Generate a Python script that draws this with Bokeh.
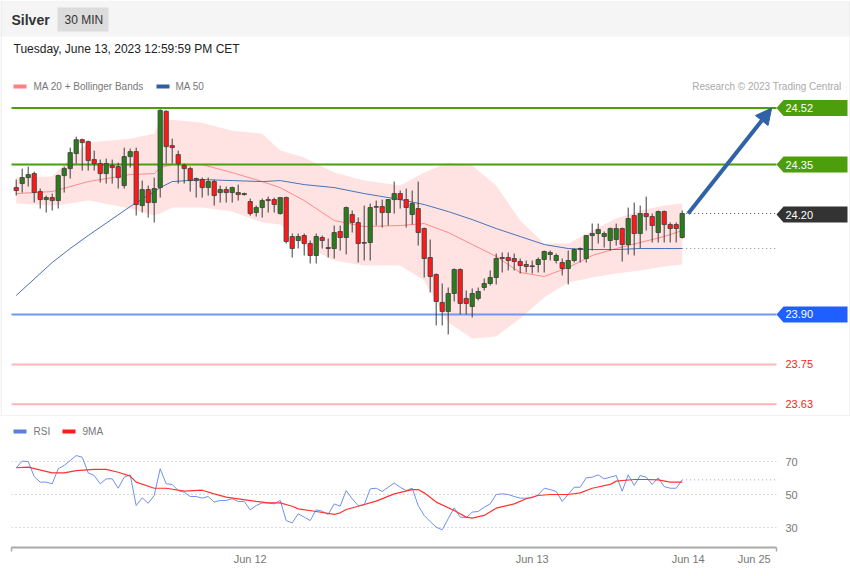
import numpy as np
from bokeh.plotting import figure
from bokeh.layouts import column
from bokeh.models import (ColumnDataSource, Range1d, Label, BoxAnnotation,
                          Arrow, NormalHead, FixedTicker)
from bokeh.core.properties import value
from bokeh.embed import file_html
from bokeh.resources import INLINE

# ------------------------------------------------------------------ data
OPEN = [24.281, 24.293, 24.311, 24.323, 24.269, 24.245, 24.251, 24.242, 24.317, 24.338,
        24.383, 24.425, 24.419, 24.365, 24.353, 24.323, 24.347, 24.344, 24.287, 24.374,
        24.389, 24.227, 24.275, 24.236, 24.281, 24.510, 24.407, 24.380, 24.347, 24.338,
        24.302, 24.305, 24.281, 24.299, 24.266, 24.275, 24.266, 24.266, 24.260, 24.239,
        24.206, 24.221, 24.245, 24.245, 24.203, 24.251, 24.134, 24.122, 24.137, 24.113,
        24.077, 24.131, 24.101, 24.098, 24.149, 24.131, 24.200, 24.176, 24.116, 24.116,
        24.224, 24.224, 24.206, 24.245, 24.263, 24.245, 24.200, 24.218, 24.158, 24.071,
        24.020, 23.936, 23.909, 23.963, 24.035, 23.948, 23.924, 23.948, 23.981, 23.993,
        24.011, 24.068, 24.071, 24.068, 24.059, 24.050, 24.046, 24.050, 24.065, 24.080,
        24.062, 24.056, 24.038, 24.062, 24.095, 24.068, 24.137, 24.143, 24.134, 24.122,
        24.125, 24.158, 24.110, 24.197, 24.143, 24.203, 24.194, 24.146, 24.209, 24.170,
        24.170, 24.131]
HIGH = [24.305, 24.338, 24.344, 24.329, 24.278, 24.257, 24.263, 24.320, 24.344, 24.401,
        24.434, 24.428, 24.422, 24.392, 24.365, 24.368, 24.365, 24.356, 24.401, 24.398,
        24.401, 24.302, 24.287, 24.311, 24.516, 24.513, 24.428, 24.392, 24.353, 24.344,
        24.311, 24.311, 24.311, 24.305, 24.287, 24.284, 24.284, 24.290, 24.266, 24.248,
        24.227, 24.248, 24.254, 24.251, 24.251, 24.254, 24.143, 24.143, 24.143, 24.122,
        24.143, 24.137, 24.128, 24.167, 24.167, 24.224, 24.212, 24.191, 24.227, 24.233,
        24.242, 24.245, 24.245, 24.299, 24.272, 24.278, 24.272, 24.299, 24.161, 24.125,
        24.023, 23.993, 23.981, 24.038, 24.038, 23.972, 23.978, 23.981, 24.008, 24.032,
        24.083, 24.086, 24.086, 24.083, 24.068, 24.062, 24.062, 24.071, 24.092, 24.092,
        24.083, 24.068, 24.092, 24.098, 24.101, 24.137, 24.173, 24.173, 24.149, 24.161,
        24.173, 24.161, 24.221, 24.236, 24.227, 24.254, 24.203, 24.212, 24.212, 24.176,
        24.176, 24.212]
LOW = [24.257, 24.266, 24.284, 24.236, 24.218, 24.206, 24.212, 24.218, 24.266, 24.308,
       24.353, 24.332, 24.332, 24.332, 24.296, 24.293, 24.293, 24.278, 24.278, 24.341,
       24.197, 24.206, 24.191, 24.176, 24.251, 24.353, 24.353, 24.293, 24.293, 24.269,
       24.251, 24.251, 24.257, 24.227, 24.236, 24.236, 24.236, 24.242, 24.257, 24.197,
       24.194, 24.191, 24.206, 24.206, 24.200, 24.113, 24.071, 24.098, 24.077, 24.053,
       24.053, 24.098, 24.071, 24.068, 24.092, 24.080, 24.146, 24.056, 24.062, 24.062,
       24.167, 24.161, 24.167, 24.203, 24.218, 24.161, 24.170, 24.107, 24.011, 23.966,
       23.867, 23.867, 23.840, 23.939, 23.900, 23.900, 23.891, 23.942, 23.972, 23.987,
       23.990, 24.026, 24.032, 24.032, 24.023, 24.026, 24.023, 24.026, 24.026, 24.062,
       24.053, 24.017, 23.990, 24.056, 24.056, 24.056, 24.092, 24.113, 24.101, 24.092,
       24.107, 24.059, 24.080, 24.077, 24.098, 24.152, 24.116, 24.116, 24.116, 24.116,
       24.116, 24.128]
CLOSE = [24.272, 24.311, 24.320, 24.266, 24.245, 24.251, 24.242, 24.317, 24.338, 24.386,
         24.425, 24.416, 24.362, 24.353, 24.323, 24.353, 24.341, 24.311, 24.374, 24.389,
         24.230, 24.275, 24.236, 24.278, 24.513, 24.404, 24.401, 24.353, 24.338, 24.302,
         24.308, 24.281, 24.299, 24.257, 24.275, 24.266, 24.281, 24.260, 24.263, 24.203,
         24.221, 24.242, 24.242, 24.230, 24.251, 24.119, 24.098, 24.134, 24.113, 24.077,
         24.134, 24.122, 24.098, 24.146, 24.131, 24.221, 24.176, 24.113, 24.114, 24.221,
         24.222, 24.206, 24.245, 24.263, 24.245, 24.221, 24.233, 24.146, 24.068, 24.014,
         23.939, 23.909, 23.963, 24.035, 23.933, 23.933, 23.963, 23.969, 23.993, 24.011,
         24.068, 24.071, 24.062, 24.059, 24.047, 24.044, 24.044, 24.065, 24.089, 24.086,
         24.077, 24.038, 24.062, 24.095, 24.098, 24.137, 24.143, 24.155, 24.143, 24.158,
         24.158, 24.110, 24.188, 24.143, 24.203, 24.194, 24.167, 24.209, 24.170, 24.158,
         24.158, 24.203]

# moving averages / Bollinger bands read at these bar indices
MA_IDX = [0, 6, 9, 12, 19, 23, 24, 26, 31, 36, 41, 44, 48, 53, 58, 64, 68, 72,
          76, 80, 84, 88, 92, 96, 100, 104, 108, 111]
MA50 = [23.957, 24.056, 24.098, 24.137, 24.224, 24.269, 24.281, 24.299, 24.305, 24.302,
        24.299, 24.302, 24.290, 24.281, 24.263, 24.245, 24.230, 24.209, 24.185, 24.158,
        24.134, 24.110, 24.098, 24.095, 24.095, 24.098, 24.098, 24.098]
MA20 = [24.263, 24.269, 24.284, 24.299, 24.320, 24.323, 24.341, 24.350, 24.350, 24.326,
        24.299, 24.281, 24.242, 24.182, 24.164, 24.167, 24.173, 24.146, 24.110, 24.074,
        24.026, 24.014, 24.041, 24.077, 24.098, 24.116, 24.134, 24.152]
BB_UP = [24.311, 24.314, 24.368, 24.416, 24.428, 24.443, 24.482, 24.485, 24.476, 24.452,
         24.443, 24.392, 24.371, 24.326, 24.302, 24.287, 24.326, 24.356, 24.347, 24.287,
         24.182, 24.113, 24.113, 24.152, 24.188, 24.212, 24.227, 24.233]
BB_LO = [24.233, 24.227, 24.233, 24.242, 24.218, 24.197, 24.203, 24.221, 24.221, 24.209,
         24.176, 24.170, 24.107, 24.062, 24.047, 24.047, 24.002, 23.876, 23.828, 23.834,
         23.888, 23.951, 23.996, 24.011, 24.023, 24.032, 24.044, 24.050]

RSI = [66.2, 70.2, 70.0, 60.9, 57.5, 57.5, 56.5, 65.6, 67.6, 70.6,
       73.6, 72.6, 63.1, 61.5, 56.5, 59.5, 59.5, 53.8, 60.5, 61.9,
       43.3, 48.0, 44.7, 49.4, 65.6, 56.5, 56.1, 52.4, 51.4, 48.8,
       48.8, 47.8, 48.8, 45.4, 46.4, 46.4, 47.4, 45.8, 45.8, 40.7,
       43.3, 44.9, 44.9, 44.3, 46.4, 34.2, 32.8, 38.3, 36.3, 34.2,
       40.7, 39.9, 37.9, 44.3, 42.9, 52.4, 47.4, 43.3, 43.7, 53.4,
       53.8, 51.8, 54.4, 56.9, 54.4, 52.4, 53.8, 43.3, 37.3, 33.6,
       30.2, 28.6, 35.3, 41.9, 36.3, 35.9, 39.3, 39.7, 42.3, 44.3,
       50.0, 50.4, 50.0, 48.8, 47.8, 47.8, 48.0, 49.8, 53.8, 53.0,
       51.8, 45.8, 50.0, 54.4, 54.4, 60.1, 60.5, 61.9, 59.5, 60.5,
       61.5, 52.0, 61.9, 55.5, 61.5, 60.5, 56.1, 60.1, 54.8, 53.8,
       53.8, 58.9]
RMA_IDX = [0, 2, 6, 8, 10, 13, 15, 17, 19, 20, 23, 25, 28, 31, 33, 35, 37, 40, 42, 44,
           46, 47, 50, 53, 54, 55, 57, 60, 63, 66, 67, 68, 70, 73, 75, 76, 78, 80, 83, 85,
           87, 89, 92, 94, 96, 99, 100, 103, 105, 107, 109, 111]
RMA = [66.2, 66.6, 63.1, 63.1, 64.5, 65.2, 65.2, 63.5, 61.1, 57.5, 53.8, 53.8, 52.0, 52.6,
       50.4, 48.4, 47.4, 45.8, 44.9, 44.9, 42.9, 41.3, 39.7, 37.9, 38.9, 40.9, 42.9, 46.0,
       50.4, 53.0, 53.0, 51.0, 45.4, 40.3, 36.3, 35.7, 37.3, 41.7, 44.3, 47.4, 49.4, 50.0,
       50.0, 51.0, 53.8, 56.1, 58.1, 59.1, 59.1, 58.9, 57.5, 57.5]

X_TICKS = [39, 86, 112, 123]
X_TICK_LABELS = ["Jun 12", "Jun 13", "Jun 14", "Jun 25"]
RSI_TICKS = [30, 50, 70]

TAG_LEVELS = [24.52, 24.35, 24.20, 23.90]
TAG_TEXT = ["24.52", "24.35", "24.20", "23.90"]
LINE_LEVELS = [24.52, 24.35, 23.90, 23.75, 23.63]
PLAIN_LEVELS = [23.75, 23.63]
PLAIN_TEXT = ["23.75", "23.63"]
TARGET = 24.52

# ------------------------------------------------------------------ layout helpers
FONT = "Liberation Sans"
W, H1, H2 = 850, 416, 158
BAR_PX, BAR0_PX = 6.0, 15.7
PX_PER_PRICE = 333.0
PRICE_TOP = 24.8428
RSI_PX = 1.65


def ix(px):
    return (px - BAR0_PX) / BAR_PX


def py(px):
    return PRICE_TOP - px / PX_PER_PRICE


def ry(px):
    return 50.0 - (px - 78.0) / RSI_PX


X0, X1 = ix(11), ix(776)
LAST_I = len(CLOSE) - 1


def lab(fig, x, y, text, size, color, bold=False, align="left"):
    fig.add_layout(Label(x=x, y=y, text=text, text_font=FONT, text_font_size=size,
                         text_color=color, text_font_style="bold" if bold else "normal",
                         text_align=align, text_baseline="middle"))


# ------------------------------------------------------------------ main panel
p1 = figure(width=W, height=H1, x_range=Range1d(ix(0), ix(W)),
            y_range=Range1d(py(H1), py(0)), x_axis_location=None,
            y_axis_location=None, toolbar_location=None, output_backend="svg",
            min_border=0, outline_line_color=None, frame_align=False,
            background_fill_color="white", border_fill_color="white")
p1.grid.visible = False

# header
p1.add_layout(BoxAnnotation(bottom=py(36), fill_color="#f5f5f5", fill_alpha=1,
                            line_color=None))
p1.add_layout(BoxAnnotation(left=ix(57), right=ix(108), bottom=py(31), top=py(7),
                            fill_color="#dcdcdc", fill_alpha=1, line_color=None))
lab(p1, ix(11), py(19), "Silver", "14px", "#333333", bold=True)
lab(p1, ix(64), py(19), "30 MIN", "12px", "#333333")
lab(p1, ix(13), py(48), "Tuesday, June 13, 2023 12:59:59 PM CET", "12px", "#222222")

# outer frame lines
p1.add_layout(BoxAnnotation(right=ix(1), fill_color="#e8e8e8", fill_alpha=1,
                            line_color=None))
p1.add_layout(BoxAnnotation(left=ix(849), fill_color="#e8e8e8", fill_alpha=1,
                            line_color=None))

# legend
p1.add_layout(BoxAnnotation(left=ix(13), right=ix(26), bottom=py(88), top=py(84),
                            fill_color="#ff8080", fill_alpha=1, line_color=None))
lab(p1, ix(33), py(86), "MA 20 + Bollinger Bands", "10px", "#777777")
p1.add_layout(BoxAnnotation(left=ix(156), right=ix(169), bottom=py(88), top=py(84),
                            fill_color="#2f5f9f", fill_alpha=1, line_color=None))
lab(p1, ix(175), py(86), "MA 50", "10px", "#777777")
lab(p1, ix(841), py(86), "Research \u00a9 2023 Trading Central", "10px", "#aaaaaa",
    align="right")

# bands and averages
p1.varea(x=MA_IDX, y1=BB_LO, y2=BB_UP, fill_color="#ffe3e3", fill_alpha=1)
p1.line(MA_IDX, MA20, line_color="#ff8a8a", line_width=1)
p1.line(MA_IDX, MA50, line_color="#4a72b4", line_width=1)

# level lines
line_colors = ["#4c9e0c", "#4c9e0c", "#6f98f2", "#ffb6b6", "#ffb6b6"]
p1.segment(x0=[X0] * len(LINE_LEVELS), x1=[X1] * len(LINE_LEVELS),
           y0=LINE_LEVELS, y1=LINE_LEVELS, line_color=line_colors, line_width=2)
p1.segment(x0=[LAST_I], x1=[X1], y0=[CLOSE[-1]], y1=[CLOSE[-1]],
           line_color="#444444", line_width=1, line_dash="1 3")
p1.segment(x0=[LAST_I], x1=[X1], y0=[MA50[-1]], y1=[MA50[-1]],
           line_color="#8a8a8a", line_width=1, line_dash="1 3")

# candles
o = np.array(OPEN); c = np.array(CLOSE)
src = ColumnDataSource(dict(
    x=np.arange(len(CLOSE)), h=HIGH, l=LOW,
    top=np.maximum(o, c), bottom=np.minimum(o, c),
    color=["#2b7d1b" if cc >= oo else "#ff1a1a" for oo, cc in zip(OPEN, CLOSE)]))
p1.segment(x0="x", y0="h", x1="x", y1="l", source=src, line_color="#3c3c3c",
           line_width=1)
p1.vbar(x="x", width=0.72, top="top", bottom="bottom", fill_color="color",
        line_color="#3c3c3c", line_width=0.8, source=src)

# tags
notch = 7 / BAR_PX
half_h = 8 / PX_PER_PRICE
xr = ix(847)
tag_xs, tag_ys = [], []
for lv in TAG_LEVELS:
    tag_xs.append([X1, X1 + notch, xr, xr, X1 + notch])
    tag_ys.append([lv, lv + half_h, lv + half_h, lv - half_h, lv - half_h])
p1.patches(tag_xs, tag_ys, fill_color=["#4c9e0c", "#4c9e0c", "#333333", "#1f5fff"],
           line_color=None)
p1.text(x=[ix(785)] * len(TAG_LEVELS), y=TAG_LEVELS, text=TAG_TEXT,
        text_font=value(FONT), text_font_size="11px", text_color="white",
        text_baseline="middle", text_align="left")
p1.text(x=[ix(785)] * len(PLAIN_LEVELS), y=PLAIN_LEVELS, text=PLAIN_TEXT,
        text_font=value(FONT), text_font_size="11px", text_color="#ff2020",
        text_baseline="middle", text_align="left")

# forecast arrow
arrow_c = "#2f62a6"
p1.add_layout(Arrow(end=NormalHead(size=16, fill_color=arrow_c, line_color=arrow_c),
                    x_start=LAST_I + 1, y_start=CLOSE[-1], x_end=X1 - 0.8, y_end=TARGET,
                    line_color=arrow_c, line_width=4))

# panel separator
p1.add_layout(BoxAnnotation(top=py(415), fill_color="#e6e6e6", fill_alpha=1,
                            line_color=None))

# ------------------------------------------------------------------ RSI panel
p2 = figure(width=W, height=H2, x_range=Range1d(X0, X1),
            y_range=Range1d(ry(131), ry(4)), y_axis_location="right",
            toolbar_location=None, output_backend="svg", frame_align=False,
            min_border_left=11, min_border_right=W - 776, min_border_top=4,
            min_border_bottom=H2 - 131, outline_line_color=None,
            background_fill_color="white", border_fill_color="white")
p2.xgrid.visible = False
p2.yaxis.ticker = FixedTicker(ticks=RSI_TICKS)
p2.ygrid.grid_line_color = "#b5b5b5"
p2.ygrid.grid_line_dash = "1 3"
p2.yaxis.axis_line_color = None
p2.yaxis.major_tick_line_color = None
p2.yaxis.minor_tick_line_color = None
p2.yaxis.major_label_standoff = 3
p2.yaxis.major_label_text_font = FONT
p2.yaxis.major_label_text_font_size = "11px"
p2.yaxis.major_label_text_color = "#777777"

p2.xaxis.ticker = FixedTicker(ticks=X_TICKS, minor_ticks=[X0, X1])
p2.xaxis.major_label_overrides = {t: s for t, s in zip(X_TICKS, X_TICK_LABELS)}
p2.xaxis.axis_line_color = "#aaaaaa"
p2.xaxis.axis_line_width = 2
p2.xaxis.major_tick_line_color = None
p2.xaxis.major_tick_out = 0
p2.xaxis.major_tick_in = 0
p2.xaxis.minor_tick_line_color = "#aaaaaa"
p2.xaxis.minor_tick_line_width = 1.5
p2.xaxis.minor_tick_in = 0
p2.xaxis.minor_tick_out = 4
p2.xaxis.major_label_standoff = 1
p2.xaxis.major_label_text_font = FONT
p2.xaxis.major_label_text_font_size = "11px"
p2.xaxis.major_label_text_color = "#777777"

p2.line(np.arange(len(RSI)), RSI, line_color="#7090ea", line_width=1)
p2.line(RMA_IDX, RMA, line_color="#ff3333", line_width=1.2)
p2.segment(x0=[LAST_I], x1=[X1], y0=[RSI[-1]], y1=[RSI[-1]],
           line_color="#8aa4f0", line_width=1, line_dash="1 3")

p2.add_layout(BoxAnnotation(left=ix(13), right=ix(26), bottom=ry(17), top=ry(13),
                            fill_color="#5b7fe0", fill_alpha=1, line_color=None))
lab(p2, ix(33), ry(15), "RSI", "10px", "#777777")
p2.add_layout(BoxAnnotation(left=ix(62), right=ix(75), bottom=ry(17), top=ry(13),
                            fill_color="#ff1a1a", fill_alpha=1, line_color=None))
lab(p2, ix(82), ry(15), "9MA", "10px", "#777777")

layout = column(p1, p2)
open("out.html", "w").write(file_html(layout, INLINE, title="Silver 30 MIN"))
